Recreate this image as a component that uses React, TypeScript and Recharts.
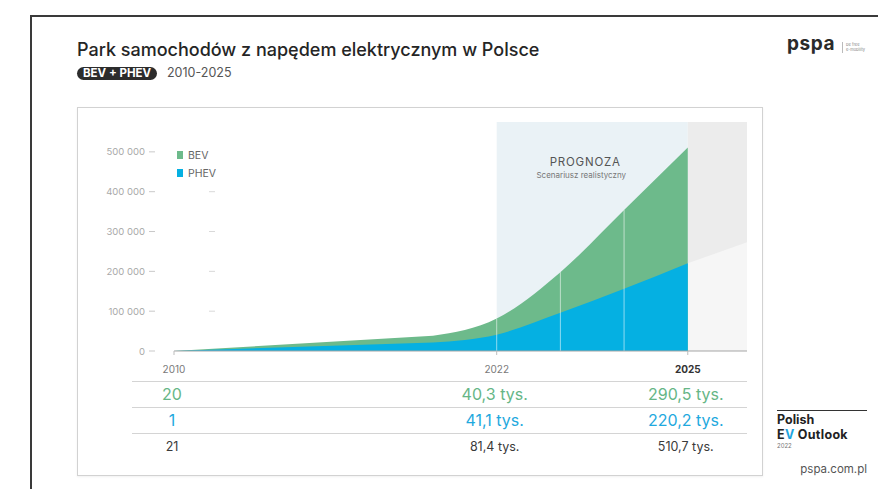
import React from 'react';
import { AreaChart, Area, XAxis, YAxis, ReferenceArea, ReferenceLine, Legend, Label } from 'recharts';

const FONT = 'Inter, "Noto Sans", "Liberation Sans", sans-serif';
const GREEN = '#6dba8b';
const BLUE = '#05b0e2';
const GREEN_TEXT = '#66b686';
const BLUE_TEXT = '#1fa9de';
const DARK_TEXT = '#3a3a3a';

// ---- data ----
const histYears = [2010, 2021];
const histBev = [20, 16500];
const histPhev = [1, 21500];

const fcYears = [2021, 2022, 2023, 2024, 2025];
const fcBev = [16500, 40300, 102000, 198000, 290500];
const fcPhev = [21500, 41100, 96000, 156000, 220200];

const fadeYears = [2025, 2026];
const fadeValues = [220200, 277000];

const yTicks = [0, 100000, 200000, 300000, 400000, 500000];
const Y_MAX = 575000;
const HIST_DOMAIN = [2010, 2021];
const FC_DOMAIN = [2021, 2025.93];
const histTableYears = [2010];
const fcTableYears = [2022, 2025];
const forecastRange = [2022, 2025];
const forecastDividers = [2022, 2023, 2024];
const legendOrder = ['BEV', 'PHEV'];

const histData = histYears.map((year, i) => ({
  year,
  bev: histBev[i],
  phev: histPhev[i],
  total: histBev[i] + histPhev[i],
}));

const fcData: any[] = [
  ...fcYears.map((year, i) => ({
    year,
    bev: fcBev[i],
    phev: fcPhev[i],
    total: fcBev[i] + fcPhev[i],
    fade: year === fadeYears[0] ? fadeValues[0] : undefined,
  })),
  ...fadeYears.slice(1).map((year, i) => ({ year, fade: fadeValues[i + 1] })),
];

// ---- helpers ----
const fmtAxis = (v: number) => String(v).replace(/\B(?=(\d{3})+(?!\d))/g, ' ');
const fmtTys = (v: number) => (v < 1000 ? String(v) : (v / 1000).toFixed(1).replace('.', ',') + ' tys.');

const YTick = (props: any) => {
  const { x, y, payload } = props;
  const v = payload.value;
  return (
    <g>
      <text x={x - 29} y={y} textAnchor="end" dominantBaseline="central" fontFamily={FONT} fontSize={9.5} fill="#a9a9a9">
        {fmtAxis(v)}
      </text>
      <line x1={x - 25} x2={x - 19} y1={y} y2={y} stroke="#c9c9c9" strokeWidth={1} />
      {v > 0 && v < 500000 && <line x1={x + 35} x2={x + 41} y1={y} y2={y} stroke="#d9d9d9" strokeWidth={1} />}
    </g>
  );
};

const YearTick = (props: any) => {
  const { x, y, payload } = props;
  const bold = payload.value === forecastRange[1];
  return (
    <g>
      <line x1={x} x2={x} y1={y} y2={y + 4} stroke="#bdbdbd" />
      <text
        x={x}
        y={y + 18}
        textAnchor="middle"
        dominantBaseline="central"
        fontFamily={FONT}
        fontSize={10}
        fontWeight={bold ? 700 : 400}
        fill={bold ? '#333' : '#7a7a7a'}
      >
        {payload.value}
      </text>
    </g>
  );
};

const makeRowTick = (data: any[], key: string, color: string, size: number) => (props: any) => {
  const { x, y, payload } = props;
  const row = data.find((d) => d.year === payload.value);
  if (!row) return <g />;
  return (
    <text x={x - 2} y={y + 14} textAnchor="middle" dominantBaseline="central" fontFamily={FONT} fontSize={size} fill={color}>
      {fmtTys(row[key])}
    </text>
  );
};

const LegendContent = (props: any) => {
  const payload = props.payload || [];
  return (
    <div style={{ fontFamily: FONT }}>
      {legendOrder.map((name) => {
        const item = payload.find((p: any) => p.value === name);
        if (!item) return null;
        return (
          <div key={name} style={{ display: 'flex', alignItems: 'center', height: 18 }}>
            <span style={{ display: 'inline-block', width: 6, height: 8, background: item.color, marginRight: 5 }} />
            <span style={{ fontSize: 10.5, color: '#666' }}>{name}</span>
          </div>
        );
      })}
    </div>
  );
};

const ForecastLabel = (props: any) => {
  const vb = props.viewBox || {};
  const cx = vb.x + vb.width / 2 - 7;
  return (
    <g>
      <text x={cx} y={vb.y + 40} textAnchor="middle" dominantBaseline="central" fontFamily={FONT} fontSize={11.5} letterSpacing={0.8} fill="#555">
        PROGNOZA
      </text>
      <text x={cx - 4} y={vb.y + 53} textAnchor="middle" dominantBaseline="central" fontFamily={FONT} fontSize={8} fill="#777">
        Scenariusz realistyczny
      </text>
    </g>
  );
};

const CHART_TOP = 110;
const CHART_H = 350;
const MARGIN = { top: 12, right: 0, left: 0, bottom: 0 };

// bottom axes are stacked by id order: "a" sits next to the plot
const tableAxes = (data: any[], domain: number[], ticks: number[]) => [
  <XAxis key="yr" xAxisId="a_yr" dataKey="year" type="number" domain={domain} allowDataOverflow ticks={ticks}
    height={29} tickSize={0} tickMargin={0} tickLine={false} axisLine={{ stroke: '#a5a5a5' }} tick={<YearTick />} />,
  <XAxis key="bev" xAxisId="b_bev" dataKey="year" type="number" domain={domain} allowDataOverflow ticks={ticks}
    height={26} tickSize={0} tickMargin={0} tickLine={false} axisLine={false} tick={makeRowTick(data, 'bev', GREEN_TEXT, 16)} />,
  <XAxis key="phev" xAxisId="c_phev" dataKey="year" type="number" domain={domain} allowDataOverflow ticks={ticks}
    height={26} tickSize={0} tickMargin={0} tickLine={false} axisLine={false} tick={makeRowTick(data, 'phev', BLUE_TEXT, 16)} />,
  <XAxis key="tot" xAxisId="d_tot" dataKey="year" type="number" domain={domain} allowDataOverflow ticks={ticks}
    height={28} tickSize={0} tickMargin={0} tickLine={false} axisLine={false} tick={makeRowTick(data, 'total', DARK_TEXT, 12.5)} />,
];

const tableData = [
  ...histData,
  ...fcData.filter((d) => d.total !== undefined),
];

export default function App() {
  return (
    <div style={{ position: 'absolute', left: 0, top: 0, width: 878, height: 489, background: '#fff', fontFamily: FONT, overflow: 'hidden' }}>
      {/* outer frame */}
      <div style={{ position: 'absolute', left: 30, top: 15, width: 848, height: 1.5, background: '#3a3a3a' }} />
      <div style={{ position: 'absolute', left: 30, top: 15, width: 1.5, height: 474, background: '#3a3a3a' }} />

      {/* titles */}
      <div style={{ position: 'absolute', left: 77, top: 39, fontSize: 18, lineHeight: '22px', fontWeight: 500, color: '#252525', whiteSpace: 'nowrap' }}>
        Park samochodów z napędem elektrycznym w Polsce
      </div>
      <div style={{ position: 'absolute', left: 77, top: 66.5, height: 13, lineHeight: '13px', padding: '0 6px', borderRadius: 7, background: '#2c2c2c', color: '#fff', fontSize: 11.5, fontWeight: 700, whiteSpace: 'nowrap' }}>
        BEV + PHEV
      </div>
      <div style={{ position: 'absolute', left: 167, top: 65, lineHeight: '16px', fontSize: 12.5, color: '#555', whiteSpace: 'nowrap' }}>
        2010-2025
      </div>

      {/* logo */}
      <div style={{ position: 'absolute', left: 787, top: 33, fontSize: 19, fontWeight: 700, color: '#2a2a2a', letterSpacing: 0.6, lineHeight: '22px' }}>
        pspa
      </div>
      <div style={{ position: 'absolute', left: 842, top: 42, width: 1, height: 11, background: '#bbb' }} />
      <div style={{ position: 'absolute', left: 846, top: 42, fontSize: 4, lineHeight: '5px', color: '#888' }}>
        be free<br />e-mobility
      </div>

      {/* card */}
      <div style={{ position: 'absolute', left: 77, top: 107, width: 686, height: 369, border: '1px solid #d2d2d2', boxSizing: 'border-box', boxShadow: '0 1px 2px rgba(0,0,0,0.06)' }} />

      {/* table separators */}
      {[381, 407, 433].map((t) => (
        <div key={t} style={{ position: 'absolute', left: 132, top: t, width: 615, height: 1, background: '#d4d4d4' }} />
      ))}

      {/* history chart */}
      <div style={{ position: 'absolute', left: 100, top: CHART_TOP }}>
        <AreaChart width={333} height={CHART_H} data={histData} margin={MARGIN}>
          {tableAxes(tableData, HIST_DOMAIN, histTableYears)}
          <YAxis type="number" domain={[0, Y_MAX]} ticks={yTicks} width={74} axisLine={false} tickLine={false} tickSize={0} tickMargin={0} tick={<YTick />} />
          <Legend layout="vertical" align="center" verticalAlign="middle" content={<LegendContent />} wrapperStyle={{ position: 'absolute', left: 77, top: 36, width: 80 }} />
          <Area xAxisId="a_yr" type="linear" dataKey="total" name="BEV" fill={GREEN} fillOpacity={1} stroke="none" isAnimationActive={false} />
          <Area xAxisId="a_yr" type="linear" dataKey="phev" name="PHEV" fill={BLUE} fillOpacity={1} stroke="none" isAnimationActive={false} />
        </AreaChart>
      </div>

      {/* forecast chart */}
      <div style={{ position: 'absolute', left: 433, top: CHART_TOP }}>
        <AreaChart width={314} height={CHART_H} data={fcData} margin={MARGIN}>
          {tableAxes(tableData, FC_DOMAIN, fcTableYears)}
          <YAxis type="number" domain={[0, Y_MAX]} hide allowDataOverflow />
          <ReferenceArea xAxisId="a_yr" x1={forecastRange[0]} x2={forecastRange[1]} y1={0} y2={Y_MAX} fill="#eaf2f6" fillOpacity={1} stroke="none" ifOverflow="visible">
            <Label content={<ForecastLabel />} />
          </ReferenceArea>
          <ReferenceArea xAxisId="a_yr" x1={forecastRange[1]} x2={FC_DOMAIN[1]} y1={0} y2={Y_MAX} fill="#ececec" fillOpacity={1} stroke="none" ifOverflow="visible" />
          <Area xAxisId="a_yr" type="linear" dataKey="fade" name="fade" fill="#f6f6f6" fillOpacity={1} stroke="none" isAnimationActive={false} legendType="none" />
          <Area xAxisId="a_yr" type="monotone" dataKey="total" name="BEV" fill={GREEN} fillOpacity={1} stroke="none" isAnimationActive={false} />
          <Area xAxisId="a_yr" type="monotone" dataKey="phev" name="PHEV" fill={BLUE} fillOpacity={1} stroke="none" isAnimationActive={false} />
          {forecastDividers.map((yr) => {
            const d = fcData.find((r) => r.year === yr);
            return (
              <ReferenceLine key={yr} xAxisId="a_yr" segment={[{ x: yr, y: 0 }, { x: yr, y: d.total }]} stroke="#ffffff" strokeOpacity={0.55} strokeWidth={1} />
            );
          })}
        </AreaChart>
      </div>

      {/* Polish EV Outlook */}
      <div style={{ position: 'absolute', left: 777, top: 409.5, width: 90, height: 1.5, background: '#333' }} />
      <div style={{ position: 'absolute', left: 777, top: 412.5, fontSize: 12.5, fontWeight: 700, lineHeight: '14px', color: '#222', whiteSpace: 'nowrap' }}>
        Polish
      </div>
      <div style={{ position: 'absolute', left: 777, top: 427.5, fontSize: 12.5, fontWeight: 700, lineHeight: '14px', color: '#222', whiteSpace: 'nowrap', letterSpacing: 0.3 }}>
        E<span style={{ color: '#1ea5e0' }}>V</span> Outlook
      </div>
      <div style={{ position: 'absolute', left: 777, top: 442, fontSize: 6, lineHeight: '7px', color: '#777' }}>2022</div>
      <div style={{ position: 'absolute', right: 11, top: 462, fontSize: 11.5, lineHeight: '14px', color: '#555' }}>pspa.com.pl</div>
    </div>
  );
}
